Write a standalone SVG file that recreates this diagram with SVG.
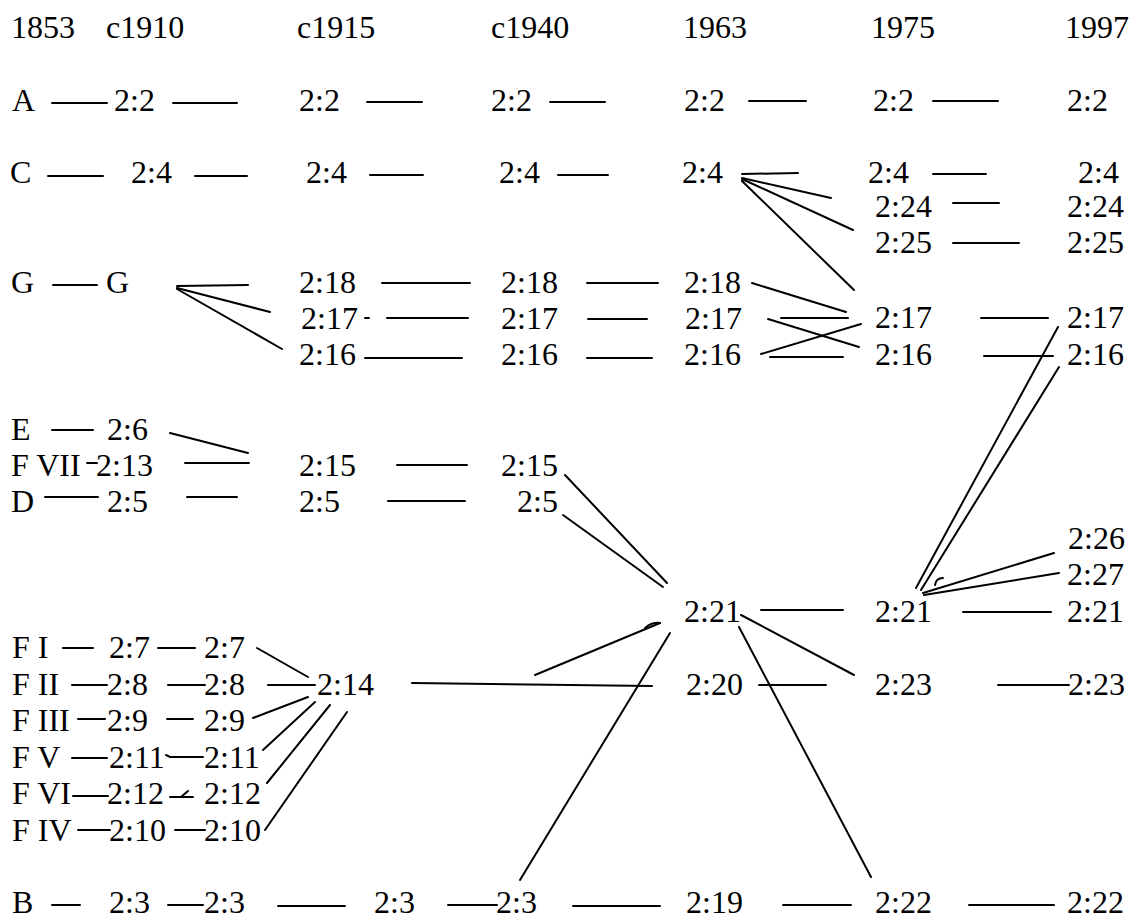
<svg xmlns="http://www.w3.org/2000/svg" width="1131" height="918" viewBox="0 0 1131 918">
<style>
text{font-family:"Liberation Serif","Times New Roman",serif;font-size:32px;fill:#000}
#connectors line,#connectors path{stroke:#000;stroke-width:2;fill:none;stroke-linecap:round}
</style>
<rect width="1131" height="918" fill="#fff"/>
<g id="headers">
<text x="11" y="38">1853</text>
<text x="106" y="38">c1910</text>
<text x="297" y="38">c1915</text>
<text x="491" y="38">c1940</text>
<text x="683" y="38">1963</text>
<text x="871" y="38">1975</text>
<text x="1065" y="38">1997</text>
</g>
<g id="n-A"><text x="12" y="111">A</text></g>
<g id="n-A-1910"><text x="114" y="111">2:2</text></g>
<g id="n-A-1915"><text x="299" y="111">2:2</text></g>
<g id="n-A-1940"><text x="491" y="111">2:2</text></g>
<g id="n-A-1963"><text x="684" y="111">2:2</text></g>
<g id="n-A-1975"><text x="873" y="111">2:2</text></g>
<g id="n-A-1997"><text x="1067" y="111">2:2</text></g>
<g id="n-C"><text x="10" y="183">C</text></g>
<g id="n-C-1910"><text x="131" y="183">2:4</text></g>
<g id="n-C-1915"><text x="306" y="183">2:4</text></g>
<g id="n-C-1940"><text x="499" y="183">2:4</text></g>
<g id="n-C-1963"><text x="682" y="183">2:4</text></g>
<g id="n-C-1975"><text x="868" y="183">2:4</text></g>
<g id="n-C-1997"><text x="1078" y="183">2:4</text></g>
<g id="n-224-1975"><text x="875" y="217">2:24</text></g>
<g id="n-224-1997"><text x="1067" y="217">2:24</text></g>
<g id="n-225-1975"><text x="875" y="253">2:25</text></g>
<g id="n-225-1997"><text x="1067" y="253">2:25</text></g>
<g id="n-G"><text x="11" y="293">G</text></g>
<g id="n-G-1910"><text x="106" y="293">G</text></g>
<g id="n-218-1915"><text x="299" y="293">2:18</text></g>
<g id="n-218-1940"><text x="501" y="293">2:18</text></g>
<g id="n-218-1963"><text x="684" y="293">2:18</text></g>
<g id="n-217-1915"><text x="301" y="329">2:17</text></g>
<g id="n-217-1940"><text x="501" y="329">2:17</text></g>
<g id="n-217-1963"><text x="685" y="329">2:17</text></g>
<g id="n-217-1975"><text x="875" y="328">2:17</text></g>
<g id="n-217-1997"><text x="1067" y="328">2:17</text></g>
<g id="n-216-1915"><text x="299" y="365">2:16</text></g>
<g id="n-216-1940"><text x="501" y="365">2:16</text></g>
<g id="n-216-1963"><text x="684" y="365">2:16</text></g>
<g id="n-216-1975"><text x="875" y="365">2:16</text></g>
<g id="n-216-1997"><text x="1067" y="365">2:16</text></g>
<g id="n-E"><text x="11" y="440">E</text></g>
<g id="n-E-1910"><text x="107" y="440">2:6</text></g>
<g id="n-FVII"><text x="11" y="476">F VII</text></g>
<g id="n-FVII-1910"><text x="96" y="476">2:13</text></g>
<g id="n-215-1915"><text x="299" y="476">2:15</text></g>
<g id="n-215-1940"><text x="501" y="476">2:15</text></g>
<g id="n-D"><text x="11" y="512">D</text></g>
<g id="n-D-1910"><text x="107" y="512">2:5</text></g>
<g id="n-D-1915"><text x="299" y="512">2:5</text></g>
<g id="n-D-1940"><text x="517" y="512">2:5</text></g>
<g id="n-226-1997"><text x="1068" y="549">2:26</text></g>
<g id="n-227-1997"><text x="1067" y="585">2:27</text></g>
<g id="n-221-1963"><text x="684" y="622">2:21</text></g>
<g id="n-221-1975"><text x="875" y="622">2:21</text></g>
<g id="n-221-1997"><text x="1067" y="622">2:21</text></g>
<g id="n-FI"><text x="12" y="658">F I</text></g>
<g id="n-FI-1910"><text x="109" y="658">2:7</text></g>
<g id="n-FI-1915"><text x="204" y="658">2:7</text></g>
<g id="n-FII"><text x="12" y="695">F II</text></g>
<g id="n-FII-1910"><text x="107" y="695">2:8</text></g>
<g id="n-FII-1915"><text x="204" y="695">2:8</text></g>
<g id="n-214"><text x="317" y="695">2:14</text></g>
<g id="n-220-1963"><text x="686" y="695">2:20</text></g>
<g id="n-223-1975"><text x="875" y="695">2:23</text></g>
<g id="n-223-1997"><text x="1068" y="695">2:23</text></g>
<g id="n-FIII"><text x="12" y="731">F III</text></g>
<g id="n-FIII-1910"><text x="107" y="731">2:9</text></g>
<g id="n-FIII-1915"><text x="204" y="731">2:9</text></g>
<g id="n-FV"><text x="12" y="768">F V</text></g>
<g id="n-FV-1910"><text x="109" y="768">2:11</text></g>
<g id="n-FV-1915"><text x="204" y="768">2:11</text></g>
<g id="n-FVI"><text x="12" y="804">F VI</text></g>
<g id="n-FVI-1910"><text x="107" y="804">2:12</text></g>
<g id="n-FVI-1915"><text x="204" y="804">2:12</text></g>
<g id="n-FIV"><text x="12" y="841">F IV</text></g>
<g id="n-FIV-1910"><text x="109" y="841">2:10</text></g>
<g id="n-FIV-1915"><text x="204" y="841">2:10</text></g>
<g id="n-B"><text x="12" y="913">B</text></g>
<g id="n-B-1910"><text x="109" y="913">2:3</text></g>
<g id="n-B-1910b"><text x="204" y="913">2:3</text></g>
<g id="n-B-1915"><text x="374" y="913">2:3</text></g>
<g id="n-B-1940"><text x="496" y="913">2:3</text></g>
<g id="n-219-1963"><text x="686" y="913">2:19</text></g>
<g id="n-222-1975"><text x="875" y="913">2:22</text></g>
<g id="n-222-1997"><text x="1067" y="913">2:22</text></g>
<g id="connectors">
<line x1="52" y1="103" x2="107" y2="103"/>
<line x1="173" y1="103" x2="237" y2="103"/>
<line x1="367" y1="102" x2="422" y2="102"/>
<line x1="550" y1="102" x2="605" y2="102"/>
<line x1="749" y1="101" x2="806" y2="101"/>
<line x1="933" y1="101" x2="998" y2="101"/>
<line x1="48" y1="176" x2="103" y2="176"/>
<line x1="195" y1="176" x2="247" y2="176"/>
<line x1="370" y1="175" x2="423" y2="175"/>
<line x1="558" y1="175" x2="608" y2="175"/>
<line x1="742" y1="174" x2="798" y2="173"/>
<line x1="933" y1="174" x2="986" y2="174"/>
<line x1="742" y1="178" x2="831" y2="198"/>
<line x1="742" y1="179" x2="853" y2="230"/>
<line x1="742" y1="181" x2="854" y2="290"/>
<line x1="953" y1="203" x2="999" y2="203"/>
<line x1="953" y1="243" x2="1019" y2="243"/>
<line x1="53" y1="285" x2="97" y2="285"/>
<line x1="177" y1="286" x2="248" y2="285"/>
<line x1="177" y1="288" x2="270" y2="312"/>
<line x1="177" y1="289" x2="282" y2="349"/>
<line x1="382" y1="283" x2="470" y2="283"/>
<line x1="587" y1="283" x2="658" y2="283"/>
<line x1="752" y1="283" x2="846" y2="312"/>
<line x1="365" y1="318" x2="369" y2="318"/>
<line x1="387" y1="318" x2="468" y2="318"/>
<line x1="588" y1="319" x2="647" y2="319"/>
<line x1="768" y1="319" x2="859" y2="347"/>
<line x1="781" y1="318" x2="848" y2="318"/>
<line x1="981" y1="318" x2="1048" y2="318"/>
<line x1="365" y1="358" x2="462" y2="358"/>
<line x1="587" y1="358" x2="652" y2="358"/>
<line x1="761" y1="354" x2="861" y2="324"/>
<line x1="770" y1="357" x2="843" y2="357"/>
<line x1="984" y1="356" x2="1053" y2="356"/>
<line x1="52" y1="430" x2="93" y2="430"/>
<line x1="170" y1="433" x2="248" y2="453"/>
<line x1="87" y1="463" x2="97" y2="463"/>
<line x1="185" y1="463" x2="249" y2="463"/>
<line x1="397" y1="465" x2="467" y2="465"/>
<line x1="45" y1="497" x2="98" y2="497"/>
<line x1="187" y1="497" x2="237" y2="497"/>
<line x1="388" y1="501" x2="465" y2="501"/>
<line x1="565" y1="475" x2="667" y2="583"/>
<line x1="563" y1="515" x2="663" y2="587"/>
<line x1="761" y1="610" x2="843" y2="610"/>
<line x1="963" y1="612" x2="1051" y2="612"/>
<line x1="741" y1="615" x2="854" y2="675"/>
<line x1="739" y1="627" x2="871" y2="877"/>
<line x1="916" y1="588" x2="1058" y2="327" stroke-width="1.5"/>
<line x1="921" y1="590" x2="1059" y2="367" stroke-width="1.5"/>
<line x1="923" y1="593" x2="1054" y2="553"/>
<line x1="924" y1="595" x2="1059" y2="573"/>
<path d="M935 585 Q936 578 943 578" stroke-width="1"/>
<line x1="63" y1="648" x2="93" y2="648"/>
<line x1="158" y1="648" x2="195" y2="648"/>
<line x1="257" y1="648" x2="308" y2="677"/>
<line x1="72" y1="685" x2="107" y2="685"/>
<line x1="168" y1="685" x2="205" y2="685"/>
<line x1="268" y1="685" x2="315" y2="685"/>
<line x1="412" y1="683" x2="652" y2="686"/>
<line x1="535" y1="675" x2="660" y2="623"/>
<path d="M645 628 Q652 622 660 623" stroke-width="3.5"/>
<line x1="759" y1="685" x2="826" y2="685"/>
<line x1="998" y1="685" x2="1069" y2="685"/>
<line x1="78" y1="719" x2="105" y2="719"/>
<line x1="167" y1="719" x2="193" y2="719"/>
<line x1="253" y1="718" x2="308" y2="697"/>
<line x1="72" y1="758" x2="107" y2="758"/>
<path d="M166 755 L170 757 L203 757"/>
<line x1="263" y1="750" x2="315" y2="702"/>
<line x1="73" y1="796" x2="108" y2="796"/>
<path d="M170 797 L193 797 M181 797 L188 791"/>
<line x1="267" y1="783" x2="330" y2="705"/>
<line x1="78" y1="830" x2="110" y2="830"/>
<line x1="175" y1="830" x2="205" y2="830"/>
<line x1="265" y1="830" x2="347" y2="712"/>
<line x1="52" y1="905" x2="80" y2="905"/>
<line x1="168" y1="905" x2="203" y2="905"/>
<line x1="278" y1="906" x2="345" y2="906"/>
<line x1="448" y1="905" x2="497" y2="905"/>
<line x1="520" y1="880" x2="670" y2="633"/>
<line x1="573" y1="906" x2="660" y2="906"/>
<line x1="783" y1="905" x2="851" y2="905"/>
<line x1="969" y1="905" x2="1054" y2="905"/>
</g>
</svg>
